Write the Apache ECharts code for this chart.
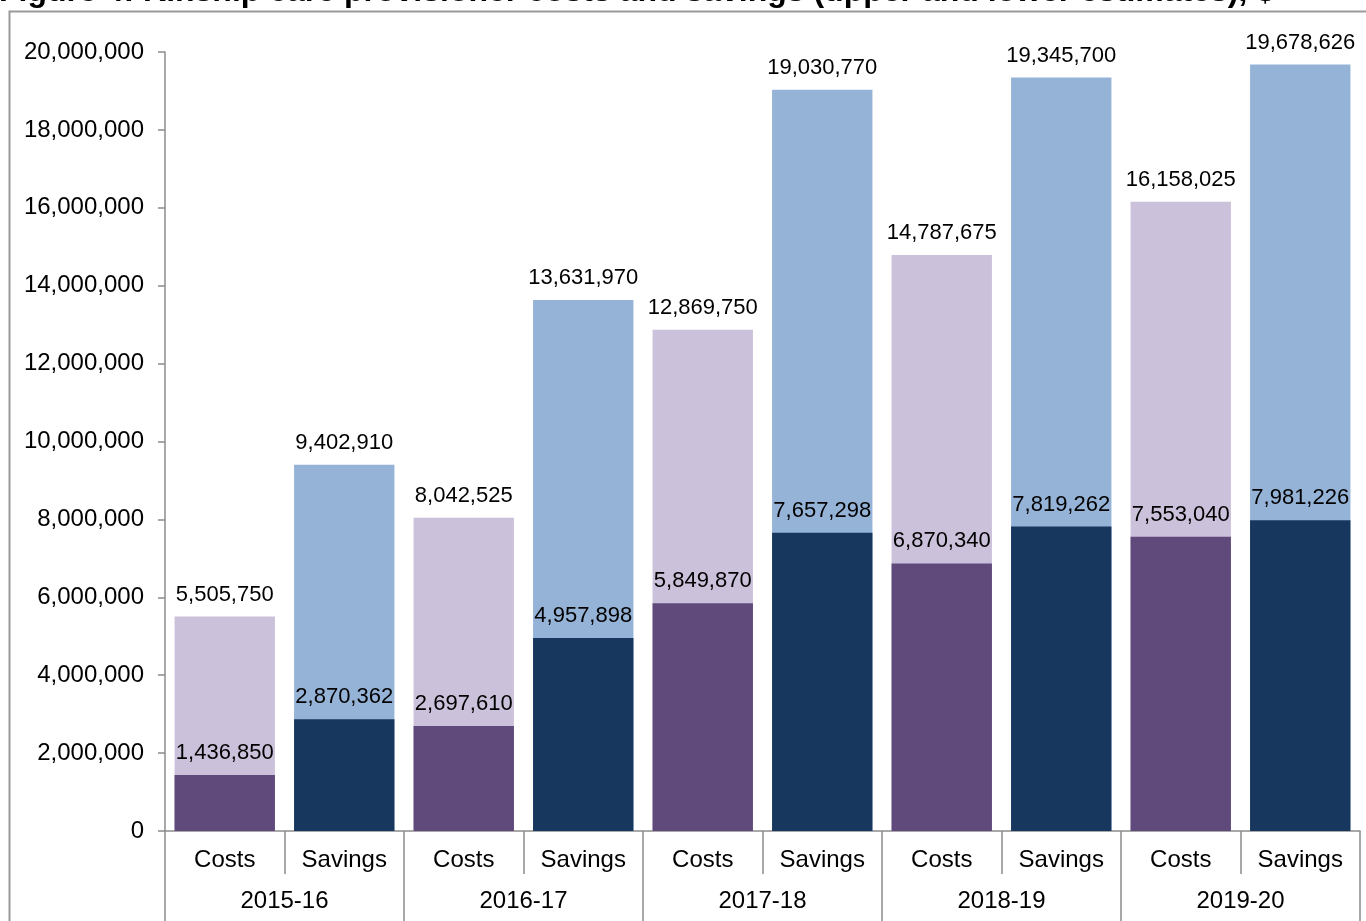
<!DOCTYPE html>
<html>
<head>
<meta charset="utf-8">
<script src="https://cdn.jsdelivr.net/npm/echarts@6/dist/echarts.min.js"></script>
<style>
html,body{margin:0;padding:0;background:#fff;}
#chart{width:1366px;height:921px;}
</style>
</head>
<body>
<div id="chart"></div>
<script>
var years = ['2015-16', '2016-17', '2017-18', '2018-19', '2019-20'];
var kinds = ['Costs', 'Savings'];
var costsUpper = [5505750, 8042525, 12869750, 14787675, 16158025];
var costsLower = [1436850, 2697610, 5849870, 6870340, 7553040];
var savingsUpper = [9402910, 13631970, 19030770, 19345700, 19678626];
var savingsLower = [2870362, 4957898, 7657298, 7819262, 7981226];
var yTicks = {min: 0, max: 20000000, interval: 2000000};
var titleText = 'Figure 4: Kinship care provisioner costs and savings (upper and lower estimates), $';

var FONT = '"Liberation Sans", Arial, sans-serif';
var colors = {
  costsLight: '#CCC1DA', costsDark: '#604A7B',
  savingsLight: '#95B3D7', savingsDark: '#17375E'
};

var cats = [], upper = [], lower = [];
years.forEach(function (y, i) {
  cats.push(kinds[0]); cats.push(kinds[1]);
  upper.push({value: costsUpper[i], itemStyle: {color: colors.costsLight}});
  upper.push({value: savingsUpper[i], itemStyle: {color: colors.savingsLight}});
  lower.push({value: costsLower[i], itemStyle: {color: colors.costsDark}});
  lower.push({value: savingsLower[i], itemStyle: {color: colors.savingsDark}});
});

function fmt(v) { return Number(v).toLocaleString('en-US'); }

var chart = echarts.init(document.getElementById('chart'), null, {renderer: 'canvas'});
var axisGray = '#8C8C8C';
var labelStyle = {show: true, position: 'top', distance: 11, color: '#000', fontSize: 22, fontFamily: FONT,
  formatter: function (p) { return fmt(p.value); }};

chart.setOption({
  animation: false,
  backgroundColor: '#fff',
  textStyle: {fontFamily: FONT},
  title: {
    text: titleText, left: -1, top: -24, padding: 0,
    textStyle: {fontSize: 32, fontWeight: 'bold', color: '#000', fontFamily: FONT}
  },
  graphic: [{
    type: 'rect', left: 7, top: 9, silent: true, z: -1,
    shape: {width: 1400, height: 1000},
    style: {fill: 'none', stroke: '#9A9A9A', lineWidth: 2}
  }],
  grid: {left: 165, right: 6, top: 52, bottom: 90, containLabel: false},
  xAxis: [{
    type: 'category', data: cats, position: 'bottom',
    axisLine: {show: true, lineStyle: {color: axisGray, width: 1.5}},
    axisTick: {show: true, interval: 0, length: 43, lineStyle: {color: axisGray, width: 1.5}},
    axisLabel: {interval: 0, margin: 17, color: '#000', fontSize: 24, fontFamily: FONT},
    splitLine: {show: false}
  }, {
    type: 'category', data: years, position: 'bottom', offset: 0,
    axisLine: {show: false},
    axisTick: {show: true, interval: 0, length: 110, lineStyle: {color: axisGray, width: 1.5}},
    axisLabel: {interval: 0, margin: 58, color: '#000', fontSize: 24, fontFamily: FONT},
    splitLine: {show: false}
  }],
  yAxis: {
    type: 'value', min: yTicks.min, max: yTicks.max, interval: yTicks.interval,
    axisLine: {show: true, lineStyle: {color: axisGray, width: 1.5}},
    axisTick: {show: true, length: 7, lineStyle: {color: axisGray, width: 1.5}},
    axisLabel: {margin: 21, color: '#000', fontSize: 24, fontFamily: FONT,
      formatter: function (v) { return fmt(v); }},
    splitLine: {show: false}
  },
  series: [{
    name: 'Upper estimate', type: 'bar', xAxisIndex: 0, data: upper,
    barCategoryGap: '16%', barGap: '-100%', label: labelStyle
  }, {
    name: 'Lower estimate', type: 'bar', xAxisIndex: 0, data: lower,
    barCategoryGap: '16%', barGap: '-100%', label: labelStyle
  }]
});
</script>
</body>
</html>
